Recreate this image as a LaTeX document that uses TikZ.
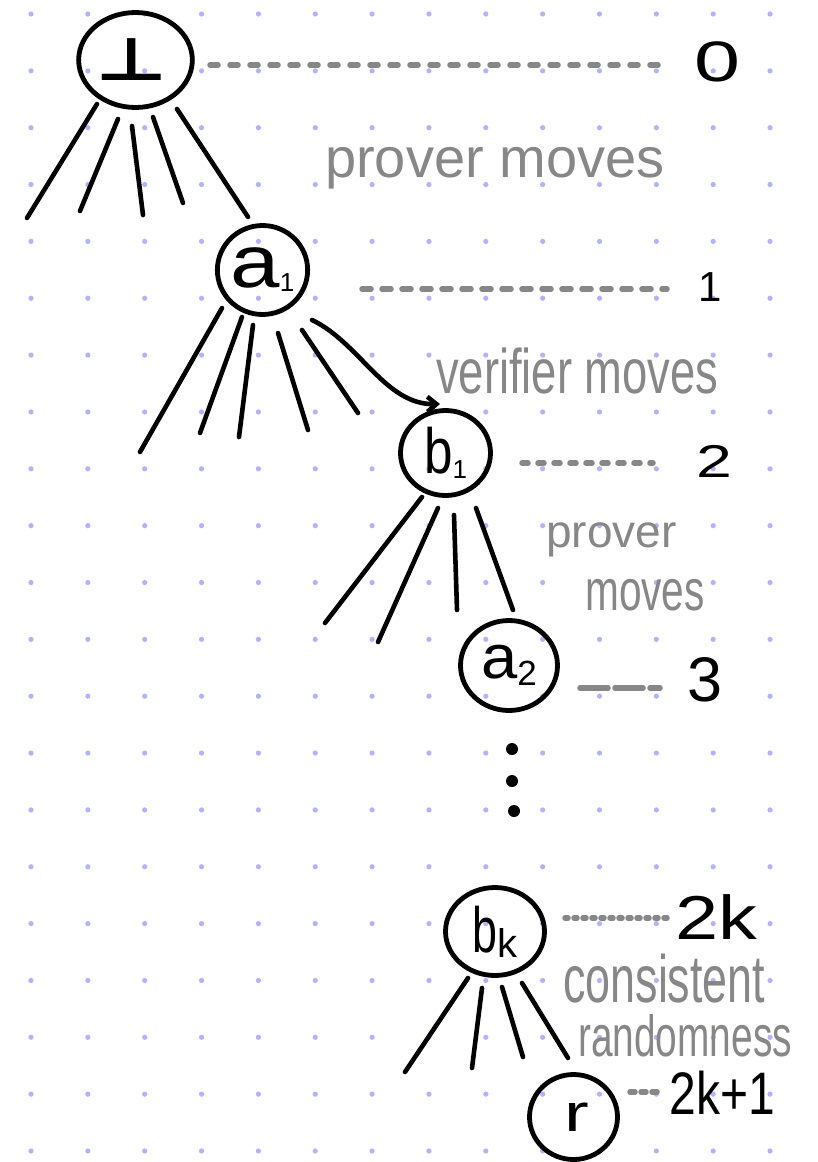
\documentclass[tikz,border=0pt]{standalone}
\usepackage{fontspec}
\setmainfont{Liberation Sans}
\newfontfamily\symfont{DejaVu Sans}
\usetikzlibrary{shapes.geometric,arrows.meta}
\definecolor{dotcol}{RGB}{178,178,255}
\definecolor{pencil}{RGB}{135,135,135}
\newcommand\fsz[1]{\fontsize{#1}{#1}\selectfont}
\begin{document}
\begin{tikzpicture}[x=1pt,y=-1pt,
  ring/.style={ellipse,draw,line width=4.8pt,inner sep=0pt},
  branch/.style={line width=4.6pt,line cap=round,line join=round},
  levelline/.style={pencil,line width=5.5pt,line cap=round},
  lvl/.style={inner sep=0pt,text=black},
  note/.style={inner sep=0pt,anchor=base west,text=pencil}]
\fill[white] (0,0) rectangle (818,1162);
\useasboundingbox (0,0) rectangle (818,1162);
% dot grid
\foreach \i in {0,...,13}{
  \foreach \j in {0,...,20}{
    \fill[dotcol] ({31+56.85*\i},{14+56.85*\j}) circle (2.6);
  }
}
% tree nodes
\node[ring,minimum width=100pt,minimum height=95pt] (root) at (135.5,60)
  {\symfont\bfseries\fsz{66}\scalebox{1.2}[0.9]{⊥}\hspace*{8pt}};
\node[ring,minimum width=90pt,minimum height=89pt] (a1) at (262.5,270)
  {\fsz{74}\scalebox{1.2}[1]{a}\raisebox{-4pt}{\fsz{26}1}};
\node[ring,minimum width=90pt,minimum height=85pt] (b1) at (445.5,453)
  {\fsz{64}\scalebox{0.8}[1]{b}\raisebox{-5pt}{\fsz{26}1}};
\node[ring,minimum width=97pt,minimum height=90pt] (a2) at (509,665.5)
  {\fsz{62}\scalebox{1.05}[1]{a}\raisebox{-7pt}{\fsz{35}2}};
\node[ring,minimum width=99pt,minimum height=88pt] (bk) at (495,931.5)
  {\fsz{64}\scalebox{0.7}[1]{b}\raisebox{-5pt}{\fsz{40}k}};
\node[ring,minimum width=88pt,minimum height=85pt] (r) at (573.5,1117)
  {\fsz{53}\hspace*{6pt}\raisebox{-12pt}{\scalebox{1.4}[1]{r}}};
% leaf ends
\coordinate (r1) at (27,218);
\coordinate (r2) at (80,211);
\coordinate (r3) at (143,215);
\coordinate (r4) at (183,203);
\coordinate (p1) at (140,452);
\coordinate (p2) at (200,433);
\coordinate (p3) at (239,437);
\coordinate (p4) at (308,430);
\coordinate (p5) at (358,413);
\coordinate (q1) at (325,623);
\coordinate (q2) at (378,642);
\coordinate (q3) at (457,610);
\coordinate (s1) at (405,1072);
\coordinate (s2) at (472,1068);
\coordinate (s3) at (523,1057);
% branches from root
\draw[branch] ([shift={(-38.5,44)}]root.center) -- (r1);
\draw[branch] ([shift={(-17.5,59)}]root.center) -- (r2);
\draw[branch] ([shift={(-3.5,66)}]root.center) -- (r3);
\draw[branch] ([shift={(17.5,57)}]root.center) -- (r4);
\draw[branch] ([shift={(41.5,49)}]root.center) -- ([shift={(-14.5,-53)}]a1.center);
% branches from a1
\draw[branch] ([shift={(-40.5,38)}]a1.center) -- (p1);
\draw[branch] ([shift={(-20.5,47)}]a1.center) -- (p2);
\draw[branch] ([shift={(-9.5,55)}]a1.center) -- (p3);
\draw[branch] ([shift={(15.5,63)}]a1.center) -- (p4);
\draw[branch] ([shift={(39.5,60)}]a1.center) -- (p5);
\draw[branch,-{Straight Barb[length=9pt,width=15pt]}] ([shift={(49.5,50)}]a1.center)
  .. controls (360,343) and (385,405) .. ([shift={(-5.5,-49)}]b1.center);
% branches from b1
\draw[branch] ([shift={(-23.5,44)}]b1.center) -- (q1);
\draw[branch] ([shift={(-7.5,55)}]b1.center) -- (q2);
\draw[branch] ([shift={(8.5,62)}]b1.center) -- (q3);
\draw[branch] ([shift={(30.5,55)}]b1.center) -- ([shift={(4,-55.5)}]a2.center);
% branches from bk
\draw[branch] ([shift={(-27,46.5)}]bk.center) -- (s1);
\draw[branch] ([shift={(-13,56.5)}]bk.center) -- (s2);
\draw[branch] ([shift={(7,55.5)}]bk.center) -- (s3);
\draw[branch] ([shift={(27,51.5)}]bk.center) -- ([shift={(-5.5,-59)}]r.center);
% vertical ellipsis
\fill (512,749) circle (6);
\fill (512,781) circle (6);
\fill (514,811) circle (6);
% level numbers
\node[lvl] (n0) at (717,62) {\fsz{57}\scalebox{1.45}[1]{0}};
\node[lvl] (n1) at (710,287) {\fsz{42}1};
\node[lvl] (n2) at (714,461.5) {\fsz{46}\scalebox{1.4}[1]{2}};
\node[lvl] (n3) at (705,679.5) {\fsz{63}3};
\node[lvl] (n2k) at (716.5,917) {\fsz{62}\scalebox{1.25}[1]{2k}};
\node[lvl] (n2k1) at (722.5,1093) {\fsz{60}\scalebox{0.8}[1]{2k+1}};
% level lines
\draw[levelline,dash pattern=on 8pt off 12pt] ([shift={(74.5,5)}]root.center) -- ([shift={(-59,3)}]n0.center);
\draw[levelline,dash pattern=on 9pt off 11pt] ([shift={(99.5,19)}]a1.center) -- ([shift={(-43,2)}]n1.center);
\draw[levelline,dash pattern=on 6pt off 10pt] ([shift={(76.5,10)}]b1.center) -- ([shift={(-61,1.5)}]n2.center);
\draw[levelline,dash pattern=on 28pt off 7pt] ([shift={(71,22.5)}]a2.center) -- ([shift={(-45,8.5)}]n3.center);
\draw[levelline,dash pattern=on 3pt off 6pt] ([shift={(70,-13.5)}]bk.center) -- ([shift={(-49.5,1)}]n2k.center);
\draw[levelline,dash pattern=on 5pt off 6pt] ([shift={(56.5,-25)}]r.center) -- ([shift={(-64.5,-1)}]n2k1.center);
% move annotations
\node[note] (t1) at (325,177) {\fsz{56}prover moves};
\node[note] (t2) at (436,393) {\fsz{63}\scalebox{0.72}[1]{verifier moves}};
\node[note] (t3) at (546,547) {\fsz{46}prover};
\node[note] (t4) at (585,610) {\fsz{58}\scalebox{0.70}[1]{moves}};
\node[note] (t5) at (563,1002) {\fsz{67}\scalebox{0.67}[1]{consistent}};
\node[note] (t6) at (578,1056) {\fsz{58}\scalebox{0.67}[1]{randomness}};
\end{tikzpicture}
\end{document}
